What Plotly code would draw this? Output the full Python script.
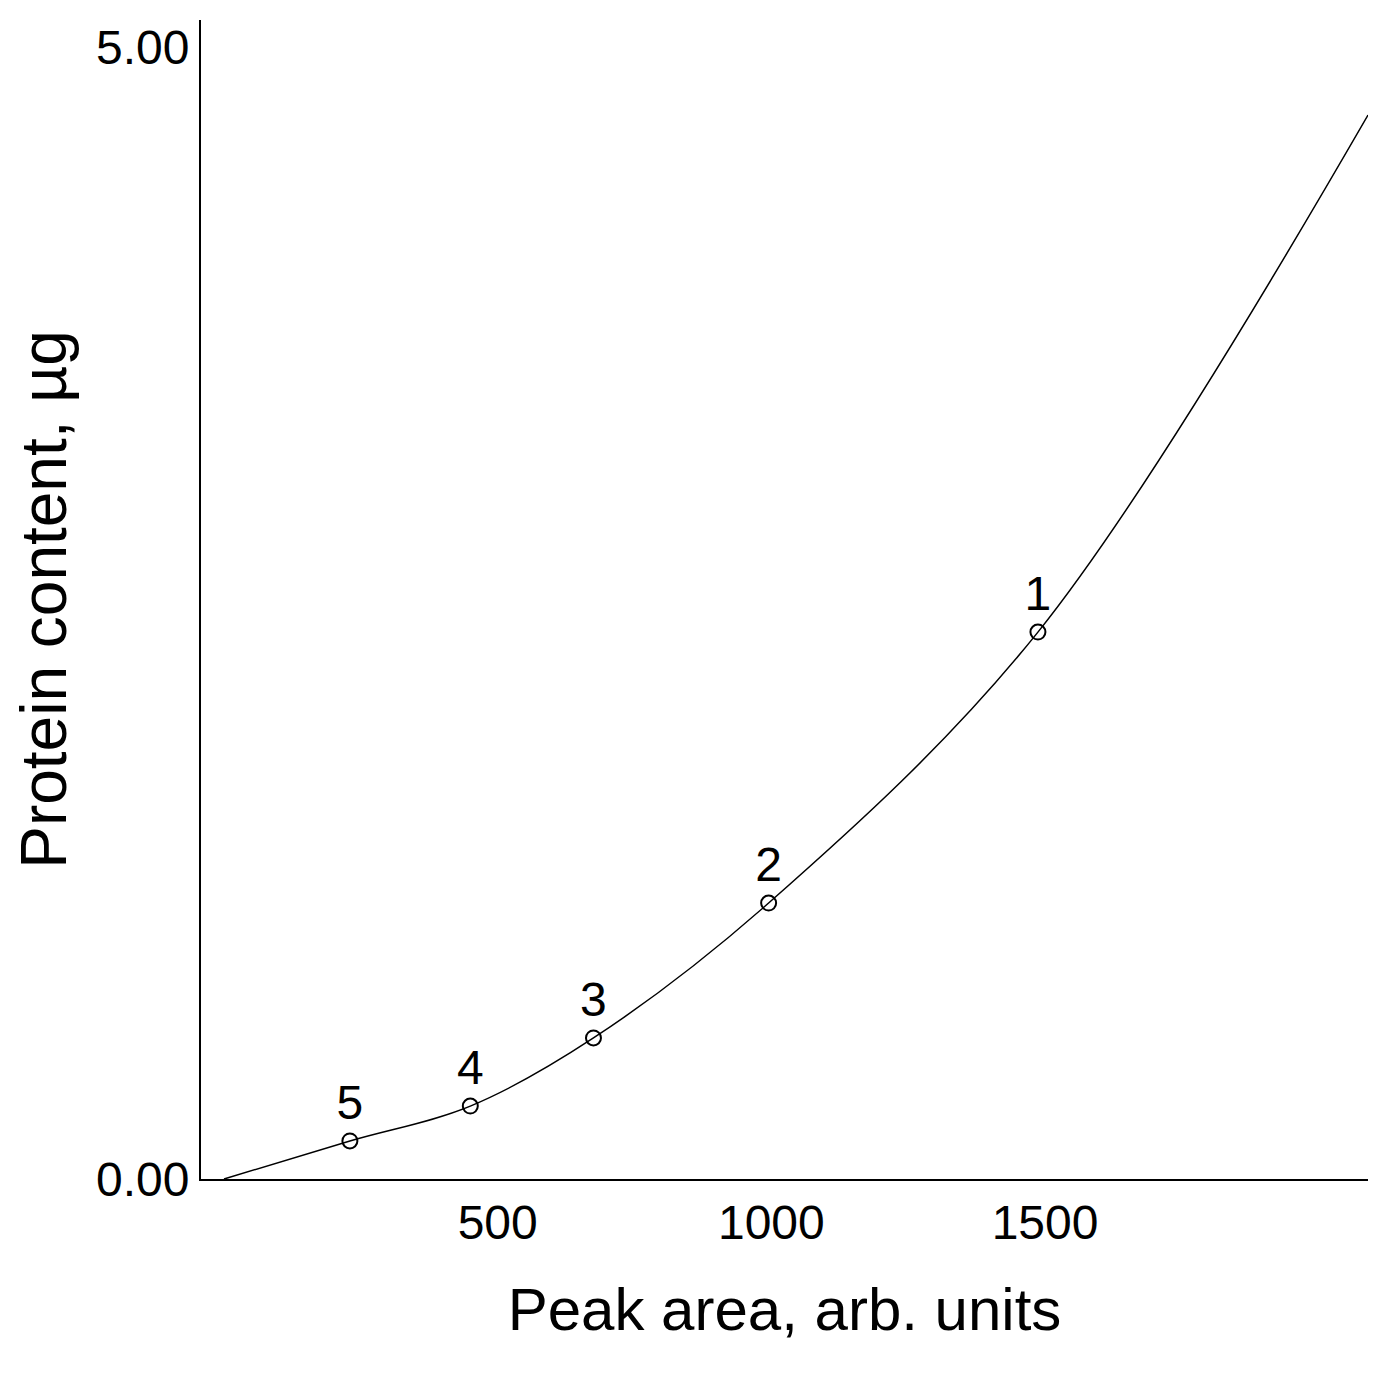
import plotly.graph_objects as go

# calibration points
pt_x = [1487, 995, 675, 450, 230]
pt_y = [2.416, 1.219, 0.623, 0.322, 0.168]
pt_labels = ["1", "2", "3", "4", "5"]

# fitted curve
curve_x = [0, 230, 450, 675, 995, 1487, 2090]
curve_y = [0.0, 0.168, 0.322, 0.623, 1.219, 2.416, 4.70]

x_ticks = [500, 1000, 1500]
y_ticks = [0, 5]
y_tick_labels = ["0.00", "5.00"]

fig = go.Figure()
fig.add_trace(go.Scatter(x=curve_x, y=curve_y, mode="lines",
                         line=dict(color="black", width=1.5, shape="spline", smoothing=1.0),
                         hoverinfo="skip"))
fig.add_trace(go.Scatter(x=pt_x, y=pt_y, mode="markers+text", text=pt_labels,
                         textposition="top center",
                         textfont=dict(size=48, color="black", family="Liberation Sans"),
                         marker=dict(symbol="circle-open", size=15, color="black", line=dict(width=2))))
fig.update_layout(
    width=1379, height=1373, showlegend=False,
    plot_bgcolor="white", paper_bgcolor="white",
    margin=dict(l=193, r=19, t=12, b=202),
    font=dict(family="Liberation Sans", color="black"),
)
fig.update_xaxes(range=[-42, 2090], tickvals=x_ticks, showgrid=False, zeroline=False,
                 showline=True, linecolor="black", linewidth=2, ticks="",
                 tickfont=dict(size=48),
                 title=dict(text="Peak area, arb. units", font=dict(size=60), standoff=40))
fig.update_yaxes(range=[0, 5.12], tickvals=y_ticks, ticktext=y_tick_labels, showgrid=False,
                 zeroline=False, showline=True, linecolor="black", linewidth=2, ticks="",
                 tickfont=dict(size=48),
                 title=dict(text="Protein content, µg", font=dict(size=64), standoff=20))
fig.write_html("out.html")
